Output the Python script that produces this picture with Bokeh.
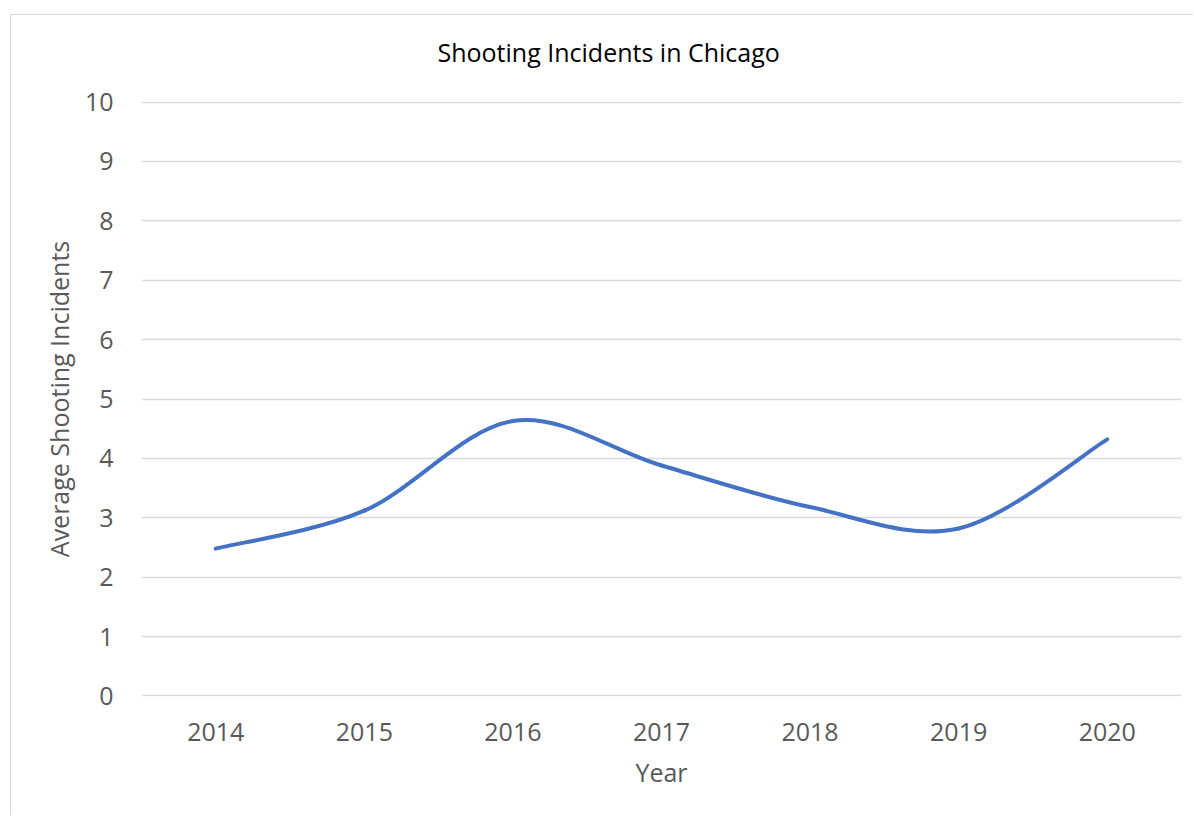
from bokeh.plotting import figure
from bokeh.models import Range1d, FixedTicker, ColumnDataSource, LinearAxis
from bokeh.embed import file_html
from bokeh.resources import INLINE

years = [2014, 2015, 2016, 2017, 2018, 2019, 2020]
values = [2.48, 3.12, 4.63, 3.88, 3.18, 2.82, 4.32]
y_ticks = [0, 1, 2, 3, 4, 5, 6, 7, 8, 9, 10]
title_text = "Shooting Incidents in Chicago"
x_label = "Year"
y_label = "Average Shooting Incidents"

FONT = "Open Sans"
GREY = "#595959"

# Smoothed line (Bezier segments, Catmull-Rom style as in spreadsheet "smoothed line")
n = len(years)
x0, y0, x1, y1, cx0, cy0, cx1, cy1 = [], [], [], [], [], [], [], []
for i in range(n - 1):
    ip = max(i - 1, 0)
    inn = min(i + 2, n - 1)
    x0.append(years[i]); y0.append(values[i])
    x1.append(years[i + 1]); y1.append(values[i + 1])
    cx0.append(years[i] + (years[i + 1] - years[ip]) / 6.0)
    cy0.append(values[i] + (values[i + 1] - values[ip]) / 6.0)
    cx1.append(years[i + 1] - (years[inn] - years[i]) / 6.0)
    cy1.append(values[i + 1] - (values[inn] - values[i]) / 6.0)
src = ColumnDataSource(dict(x0=x0, y0=y0, x1=x1, y1=y1, cx0=cx0, cy0=cy0, cx1=cx1, cy1=cy1))

p = figure(width=1183, height=801, output_backend="svg", toolbar_location=None,
           x_range=Range1d(years[0] - 0.5, years[-1] + 0.5),
           y_range=Range1d(y_ticks[0] - 0.01, y_ticks[-1] + 0.01),
           min_border_left=130, min_border_right=13, min_border_top=86, min_border_bottom=120)
p.margin = (14, 0, 0, 10)
p.styles = {"border-left": "1px solid #d9d9d9", "border-top": "1px solid #d9d9d9"}
p.outline_line_color = None
p.background_fill_color = "white"
p.border_fill_color = "white"

xax = p.below[0]
yax = p.left[0]

# invisible spacer axis above the frame (no visible ticks or labels), so the title sits higher
spacer = LinearAxis(ticker=FixedTicker(ticks=[years[3]]), axis_line_color=None,
                    major_tick_line_color=None, minor_tick_line_color=None,
                    major_tick_out=28, major_tick_in=0, minor_tick_out=0, minor_tick_in=0,
                    major_label_standoff=0, major_label_text_font_size="1px",
                    major_label_text_color=None)
p.add_layout(spacer, "above")

p.title.text = title_text
p.title.align = "left"
p.title.offset = 296
p.title.standoff = 10
p.title.text_font = FONT
p.title.text_font_size = "25px"
p.title.text_font_style = "normal"
p.title.text_color = "#000000"

p.bezier(x0="x0", y0="y0", x1="x1", y1="y1", cx0="cx0", cy0="cy0", cx1="cx1", cy1="cy1",
         source=src, line_color="#4472c4", line_width=4, line_cap="round", line_join="round")

xax.ticker = FixedTicker(ticks=years)
yax.ticker = FixedTicker(ticks=y_ticks)
for ax in (xax, yax):
    ax.axis_line_color = None
    ax.major_tick_line_color = None
    ax.minor_tick_line_color = None
    ax.major_tick_out = 0
    ax.major_tick_in = 0
    ax.major_label_text_font = FONT
    ax.major_label_text_font_size = "25px"
    ax.major_label_text_color = GREY
    ax.axis_label_text_font = FONT
    ax.axis_label_text_font_size = "25px"
    ax.axis_label_text_font_style = "normal"
    ax.axis_label_text_color = GREY
xax.major_label_standoff = 26
yax.major_label_standoff = 28
xax.axis_label = x_label
yax.axis_label = y_label
xax.axis_label_standoff = 11
yax.axis_label_standoff = 6

p.xgrid.grid_line_color = None
p.ygrid.grid_line_color = "#d9d9d9"
p.ygrid.grid_line_width = 1.5

open("out.html", "w").write(file_html(p, INLINE))
